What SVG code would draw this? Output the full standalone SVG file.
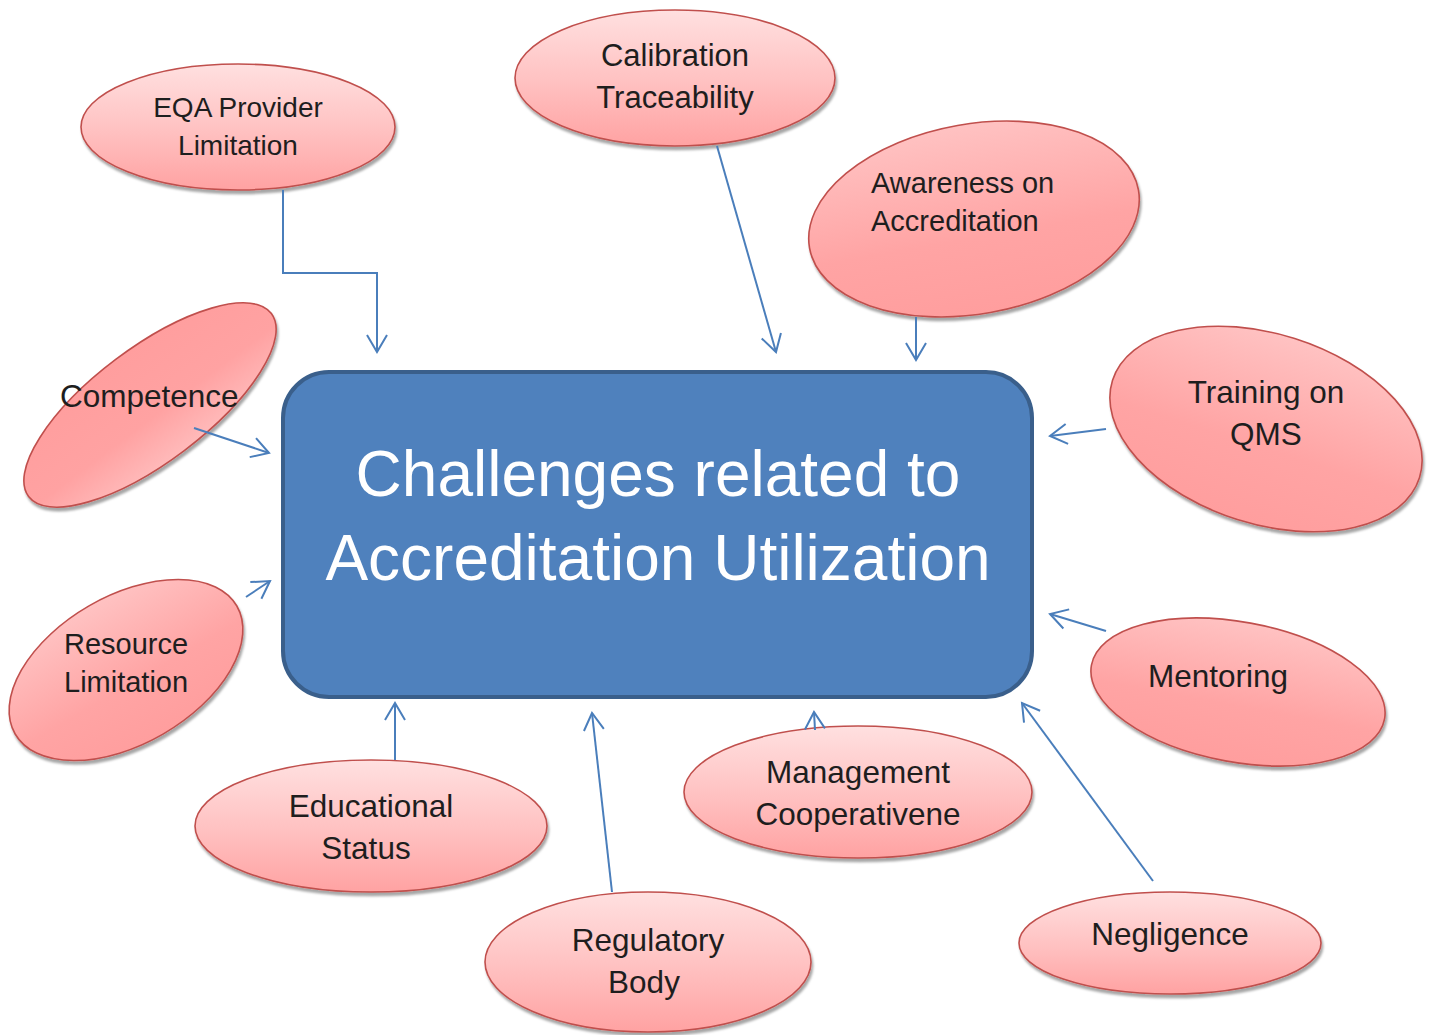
<svg xmlns="http://www.w3.org/2000/svg" width="1429" height="1035" viewBox="0 0 1429 1035">
  <defs>
    <style>
      .bubble { stroke: #c0504d; stroke-width: 1.6; }
      .soft { fill: url(#pinkSoft); }
      .deep { fill: url(#pinkDeep); }
      .flip { fill: url(#pinkFlip); }
      .lbl { font-family: "Liberation Sans", Arial, sans-serif; fill: #1e1e1e; }
      .mid { text-anchor: middle; }
      .link { fill: none; stroke: #4a7ebb; stroke-width: 2; marker-end: url(#head); }
      .title { font-family: "Liberation Sans", Arial, sans-serif; fill: #ffffff; font-size: 64px; text-anchor: middle; }
    </style>
    <linearGradient id="pinkSoft" x1="0" y1="0" x2="0" y2="1">
      <stop offset="0" stop-color="#ffe0e0"/>
      <stop offset="0.55" stop-color="#ffc0c0"/>
      <stop offset="1" stop-color="#ffa2a2"/>
    </linearGradient>
    <linearGradient id="pinkDeep" x1="0" y1="0" x2="0" y2="1">
      <stop offset="0" stop-color="#ffc2c2"/>
      <stop offset="0.6" stop-color="#ffa4a4"/>
      <stop offset="1" stop-color="#ff9e9e"/>
    </linearGradient>
    <linearGradient id="pinkFlip" x1="0" y1="0" x2="0" y2="1">
      <stop offset="0" stop-color="#ff9e9e"/>
      <stop offset="0.6" stop-color="#ffa2a2"/>
      <stop offset="1" stop-color="#ffbaba"/>
    </linearGradient>
    <filter id="drop" x="-10%" y="-10%" width="120%" height="130%">
      <feDropShadow dx="1.5" dy="3.5" stdDeviation="1.2" flood-color="#000000" flood-opacity="0.35"/>
    </filter>
    <marker id="head" markerUnits="userSpaceOnUse" markerWidth="30" markerHeight="30" viewBox="-20 -15 30 30" refX="0" refY="0" orient="auto" overflow="visible">
      <path d="M-17,-10 L0,0 L-17,10" fill="none" stroke="#4a7ebb" stroke-width="2"/>
    </marker>
  </defs>

  <rect width="1429" height="1035" fill="#ffffff"/>

  <!-- central topic -->
  <g id="center">
    <rect x="283" y="372" width="749" height="325" rx="46" ry="46" fill="#4f81bd" stroke="#3a5f8b" stroke-width="4"/>
    <text class="title" x="658" y="496">Challenges related to</text>
    <text class="title" x="658" y="580">Accreditation Utilization</text>
  </g>

  <g id="eqa">
    <g filter="url(#drop)"><ellipse class="bubble soft" cx="238" cy="127" rx="157" ry="63"/></g>
    <text class="lbl mid" x="238" y="117" font-size="28">EQA Provider</text>
    <text class="lbl mid" x="238" y="155" font-size="28">Limitation</text>
  </g>

  <g id="calibration">
    <g filter="url(#drop)"><ellipse class="bubble soft" cx="675" cy="78" rx="160" ry="68"/></g>
    <text class="lbl mid" x="675" y="66" font-size="31">Calibration</text>
    <text class="lbl mid" x="675" y="108" font-size="31">Traceability</text>
  </g>

  <g id="awareness">
    <g filter="url(#drop)"><ellipse class="bubble deep" cx="974" cy="219" rx="167" ry="95" transform="rotate(-10 974 219)"/></g>
    <text class="lbl" x="871" y="193" font-size="29">Awareness on</text>
    <text class="lbl" x="871" y="231" font-size="29">Accreditation</text>
  </g>

  <g id="training">
    <g filter="url(#drop)"><ellipse class="bubble deep" cx="1266" cy="429" rx="161" ry="95" transform="rotate(17.6 1266 429)"/></g>
    <text class="lbl mid" x="1266" y="403" font-size="31.5">Training on</text>
    <text class="lbl mid" x="1266" y="445" font-size="31.5">QMS</text>
  </g>

  <g id="mentoring">
    <g filter="url(#drop)"><ellipse class="bubble deep" cx="1238" cy="692" rx="149" ry="70" transform="rotate(10.4 1238 692)"/></g>
    <text class="lbl mid" x="1218" y="687" font-size="31.5">Mentoring</text>
  </g>

  <g id="negligence">
    <g filter="url(#drop)"><ellipse class="bubble soft" cx="1170" cy="943" rx="151" ry="51"/></g>
    <text class="lbl mid" x="1170" y="945" font-size="31.5">Negligence</text>
  </g>

  <g id="management">
    <g filter="url(#drop)"><ellipse class="bubble soft" cx="858" cy="792" rx="174" ry="66"/></g>
    <text class="lbl mid" x="858" y="783" font-size="31.5">Management</text>
    <text class="lbl mid" x="858" y="825" font-size="31.5">Cooperativene</text>
  </g>

  <g id="regulatory">
    <g filter="url(#drop)"><ellipse class="bubble soft" cx="648" cy="962" rx="163" ry="70"/></g>
    <text class="lbl mid" x="648" y="951" font-size="31.5">Regulatory</text>
    <text class="lbl mid" x="644" y="993" font-size="31.5">Body</text>
  </g>

  <g id="educational">
    <g filter="url(#drop)"><ellipse class="bubble soft" cx="371" cy="826" rx="176" ry="66"/></g>
    <text class="lbl mid" x="371" y="817" font-size="31.5">Educational</text>
    <text class="lbl mid" x="366" y="859" font-size="31.5">Status</text>
  </g>

  <g id="resource">
    <g filter="url(#drop)"><ellipse class="bubble deep" cx="126" cy="670" rx="128" ry="74" transform="rotate(-30 126 670)"/></g>
    <text class="lbl" x="64" y="654" font-size="29">Resource</text>
    <text class="lbl" x="64" y="692" font-size="29">Limitation</text>
  </g>

  <g id="competence">
    <g filter="url(#drop)"><ellipse class="bubble flip" cx="150" cy="405" rx="152" ry="57" transform="rotate(-37 150 405)"/></g>
    <text class="lbl" x="60" y="407" font-size="31.5">Competence</text>
  </g>

  <!-- arrows into the central topic, drawn over the bubbles -->
  <g id="connectors">
    <path class="link" d="M283,190 L283,273 L377,273 L377,352"/>
    <path class="link" d="M717,146 L776,352"/>
    <path class="link" d="M916,317 L916,360"/>
    <path class="link" d="M1106,429 L1050,436"/>
    <path class="link" d="M1106,631 L1050,614"/>
    <path class="link" d="M1153,881 L1022,703"/>
    <path class="link" d="M815,730 L814,712"/>
    <path class="link" d="M612,892 L592,713"/>
    <path class="link" d="M395,760 L395,703"/>
    <path class="link" d="M246,597 L270,581"/>
    <path class="link" d="M194,428 L269,453"/>
  </g>
</svg>
